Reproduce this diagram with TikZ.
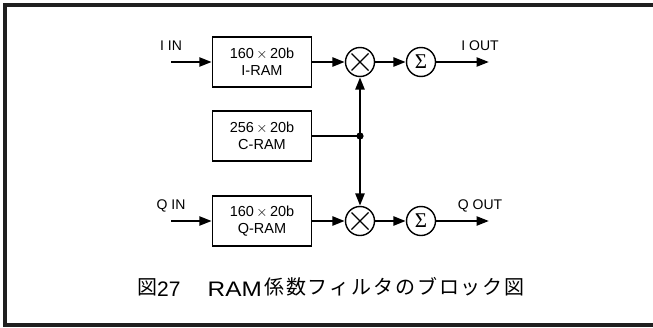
\documentclass[tikz,border=0pt]{standalone}
\usepackage{fontspec}
\setmainfont{Liberation Sans}
\newfontfamily\jp[LetterSpace=9.5]{Noto Sans CJK JP}
\newfontfamily\sigfont{Liberation Serif}
\usetikzlibrary{arrows.meta}
\tikzset{
  ram/.style={draw, line width=1.5pt, minimum width=99pt, minimum height=50pt, inner sep=0pt, align=center, font=\fontsize{14.5}{17}\selectfont},
  op/.style={draw, circle, line width=1.4pt, minimum size=29pt, inner sep=0pt},
  sig/.style={draw, circle, line width=1.4pt, minimum size=29pt, inner sep=0pt, font=\sigfont\fontsize{21}{21}\selectfont},
  flow/.style={line width=2.5pt, -{Triangle[length=12.5pt,width=9pt]}},
  lbl/.style={font=\fontsize{14}{14}\selectfont, inner sep=0pt},
  captext/.style={inner sep=0pt, anchor=base west},
}
\begin{document}
\begin{tikzpicture}[x=1pt,y=-1pt]
\useasboundingbox (0,0) rectangle (653,327);
\begin{scope}
\clip (0,0) rectangle (653,327);
\draw[line width=3.5pt, draw=black!88] (5,5) rectangle (680,325);
\end{scope}
% nodes
\node[ram] (iram) at (262,62) {160\,$\times$\,20b\\I-RAM};
\node[ram] (cram) at (262,136) {256\,$\times$\,20b\\C-RAM};
\node[ram] (qram) at (262,221) {160\,$\times$\,20b\\Q-RAM};
\node[op] (imul) at (360,62) {};
\node[op] (qmul) at (360,221) {};
\node[sig] (isum) at (421,62) {Σ};
\node[sig] (qsum) at (421,221) {Σ};
\foreach \m in {imul,qmul}{
  \draw[line width=1.4pt] ([shift={(-8.5,-8.5)}]\m.center) -- ([shift={(8.5,8.5)}]\m.center);
  \draw[line width=1.4pt] ([shift={(-8.5,8.5)}]\m.center) -- ([shift={(8.5,-8.5)}]\m.center);
}
\coordinate (iin) at (171,62);
\coordinate (qin) at (171,221);
\coordinate (iout) at (489,62);
\coordinate (qout) at (489,221);
\node[lbl, anchor=base] (iinl) at (171,50) {I IN};
\node[lbl, anchor=base] (qinl) at (171,209) {Q IN};
\node[lbl, anchor=base] (ioutl) at (480,50) {I OUT};
\node[lbl, anchor=base] (qoutl) at (480,209) {Q OUT};
\coordinate (jn) at (360,136);
% connectors
\draw[flow] (iin) -- (iram.west);
\draw[flow] (qin) -- (qram.west);
\draw[flow] (iram.east) -- (imul.west);
\draw[flow] (qram.east) -- (qmul.west);
\draw[flow] (imul.east) -- (isum.west);
\draw[flow] (qmul.east) -- (qsum.west);
\draw[flow] (isum.east) -- (iout);
\draw[flow] (qsum.east) -- (qout);
\draw[line width=1.2pt] (cram.east) -- (jn);
\draw[flow] (jn) -- (imul.south);
\draw[flow] (jn) -- (qmul.north);
\fill (jn) circle (3.6pt);
% caption
\node[captext, font=\jp\fontsize{20}{20}\selectfont] (cap1) at (137.5,294.5) {図};
\node[captext, font=\fontsize{21}{21}\selectfont] (cap2) at (157,296) {27};
\node[captext, font=\fontsize{21}{21}\selectfont] (cap3) at (207.5,296) {\scalebox{1.16}[1]{RAM}};
\node[captext, font=\jp\fontsize{20}{20}\selectfont] (cap4) at (264,294.5) {係数フィルタのブロック図};
\end{tikzpicture}
\end{document}
